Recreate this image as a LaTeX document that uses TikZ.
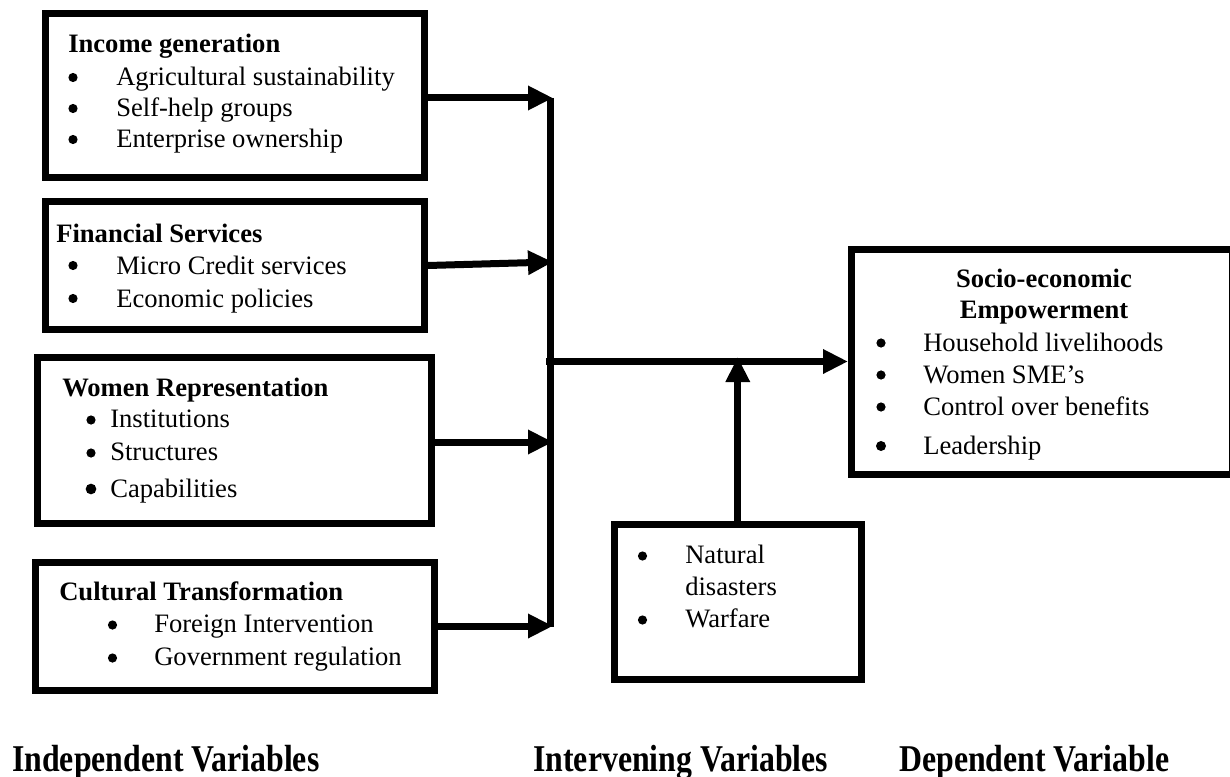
\documentclass[tikz,border=0pt]{standalone}
\usepackage{fontspec}
\usepackage{graphicx}
\setmainfont{Liberation Serif}
\usetikzlibrary{arrows.meta}
\begin{document}
\begin{tikzpicture}[x=0.75pt,y=-0.75pt,
  box/.style={draw, line width=5.25pt, rectangle, inner sep=0pt},
  conn/.style={line width=5.25pt},
  arr/.style={line width=5.25pt, -{Triangle[length=18.75pt,width=17.25pt]}},
  dot/.style={circle, fill, inner sep=0pt, minimum size=6.9pt},
  txt/.style={anchor=base west, inner sep=0pt, font=\fontsize{19.95pt}{23.25pt}\selectfont},
  hd/.style={anchor=base west, inner sep=0pt, font=\fontsize{19.95pt}{23.25pt}\selectfont\bfseries},
  hdc/.style={anchor=base, inner sep=0pt, font=\fontsize{19.95pt}{23.25pt}\selectfont\bfseries},
  lab/.style={anchor=base west, inner sep=0pt, font=\fontsize{23.85pt}{28pt}\selectfont\bfseries}]
\useasboundingbox (0,0) rectangle (1230,777);

% boxes
\node[box, minimum width=284.6pt, minimum height=123pt] (b1) at (234.75,95.5) {};
\node[box, minimum width=284.6pt, minimum height=96pt] (b2) at (234.75,265.5) {};
\node[box, minimum width=295.5pt, minimum height=124.5pt] (b3) at (234.5,440.5) {};
\node[box, minimum width=299.25pt, minimum height=96pt] (b4) at (234.5,626.5) {};
\node[box, minimum width=285.75pt, minimum height=168.75pt] (big) at (1042,361.5) {};
\node[box, minimum width=185.6pt, minimum height=116.6pt] (small) at (737.75,601.75) {};

% box 1
\node[hd] (h1) at (68,53) {Income generation};
\node[dot] (b1p1) at (73,77.5) {};
\node[txt] (b1t1) at (116,86) {Agricultural sustainability};
\node[dot] (b1p2) at (73,108.5) {};
\node[txt] (b1t2) at (116,117) {Self-help groups};
\node[dot] (b1p3) at (73,139.5) {};
\node[txt] (b1t3) at (116,148) {Enterprise ownership};

% box 2
\node[hd] (h2) at (56,243) {Financial Services};
\node[dot] (b2p1) at (73,265.5) {};
\node[txt] (b2t1) at (116,274) {Micro Credit services};
\node[dot] (b2p2) at (73,298.5) {};
\node[txt] (b2t2) at (116,307) {Economic policies};

% box 3
\node[hd] (h3) at (62,396) {Women Representation};
\node[dot] (b3p1) at (91,420) {};
\node[txt] (b3t1) at (110,427) {Institutions};
\node[dot] (b3p2) at (91,453) {};
\node[txt] (b3t2) at (110,460) {Structures};
\node[dot, minimum size=8pt] (b3p3) at (91,489) {};
\node[txt] (b3t3) at (110,497) {Capabilities};

% box 4
\node[hd] (h4) at (59,600) {Cultural Transformation};
\node[dot] (b4p1) at (112.5,625) {};
\node[txt] (b4t1) at (154,632) {Foreign Intervention};
\node[dot] (b4p2) at (112.5,658) {};
\node[txt] (b4t2) at (154,665) {Government regulation};

% big box
\node[hdc] (h5a) at (1044,287) {Socio-economic};
\node[hdc] (h5b) at (1044,318) {Empowerment};
\node[dot] (b5p1) at (881,343) {};
\node[txt] (b5t1) at (923,351) {Household livelihoods};
\node[dot] (b5p2) at (881,375) {};
\node[txt] (b5t2) at (923,383) {Women SME’s};
\node[dot] (b5p3) at (881,407) {};
\node[txt] (b5t3) at (923,415) {Control over benefits};
\node[dot, minimum size=7.5pt] (b5p4) at (881,446) {};
\node[txt] (b5t4) at (923,454) {Leadership};

% small box
\node[dot] (b6p1) at (642.5,556) {};
\node[txt] (b6t1) at (685,563) {Natural};
\node[txt] (b6t2) at (685,595) {disasters};
\node[dot] (b6p2) at (642.5,620) {};
\node[txt] (b6t3) at (685,627) {Warfare};

% bottom labels
\node[lab] (l1) at (12,771) {\scalebox{1}[1.19]{Independent Variables}};
\node[lab] (l2) at (533,771) {\scalebox{1}[1.19]{Intervening Variables}};
\node[lab] (l3) at (899,771) {\scalebox{1}[1.19]{Dependent Variable}};

% connectors
\coordinate (bt) at (550,98);
\coordinate (bb) at (550,627);
\coordinate (j1) at (553,98);
\coordinate (j2) at (553,262);
\coordinate (j3) at (553,442);
\coordinate (j4) at (553,626);
\coordinate (m0) at (546,361.5);
\coordinate (v) at (738,357);

\draw[conn] (bt) -- (bb);
\draw[arr] (b1.east |- j1) -- (j1);
\draw[arr] (b2.east) -- (j2);
\draw[arr] (b3.east |- j3) -- (j3);
\draw[arr] (b4.east |- j4) -- (j4);
\draw[arr] (m0) -- (big.west);
\draw[arr] (small.north) -- (small.north |- v);
\end{tikzpicture}
\end{document}
